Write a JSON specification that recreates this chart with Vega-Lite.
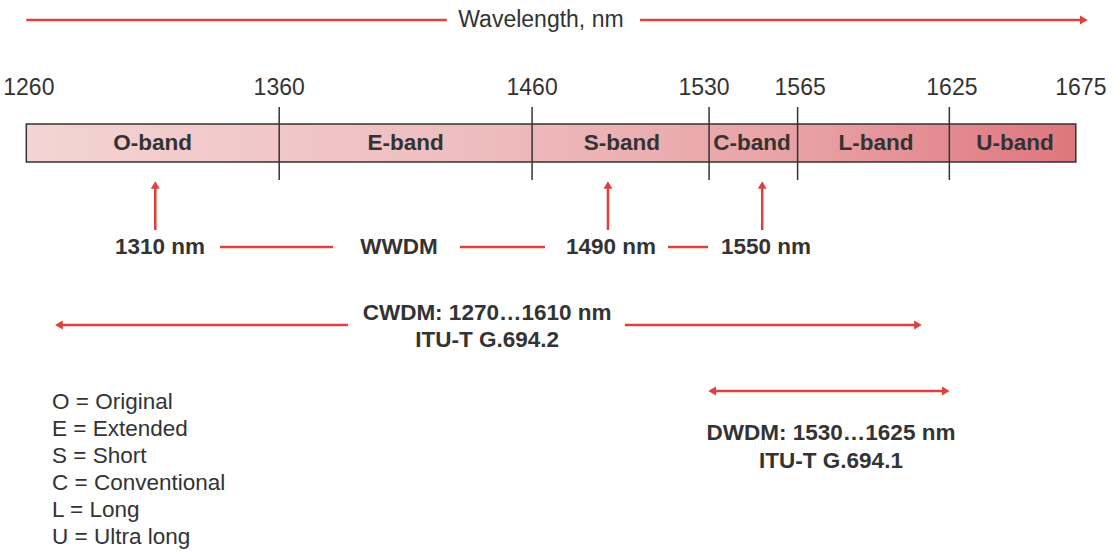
{
  "$schema": "https://vega.github.io/schema/vega-lite/v6.json",
  "width": 1116,
  "height": 551,
  "autosize": {"type": "fit", "contains": "padding"},
  "padding": 0,
  "background": "white",
  "config": {"view": {"stroke": null}, "text": {"font": "Liberation Sans", "color": "#333333"}},
  "datasets": {
    "bar": [{"start": 1260, "end": 1675, "top": 124, "bottom": 162}],
    "dividers": [
      {"x": 1360, "y": 107, "y2": 180},
      {"x": 1460, "y": 107, "y2": 180},
      {"x": 1530, "y": 107, "y2": 180},
      {"x": 1565, "y": 107, "y2": 180},
      {"x": 1625, "y": 107, "y2": 180}
    ],
    "redlines": [
      {"x": 1260, "x2": 1426.3, "y": 20, "y2": 20},
      {"x": 1502.7, "x2": 1678, "y": 20, "y2": 20},
      {"x": 1311, "x2": 1311, "y": 230, "y2": 186},
      {"x": 1490, "x2": 1490, "y": 230, "y2": 186},
      {"x": 1551, "x2": 1551, "y": 230, "y2": 186},
      {"x": 1336.6, "x2": 1381.3, "y": 247, "y2": 247},
      {"x": 1431.5, "x2": 1465.1, "y": 247, "y2": 247},
      {"x": 1513.7, "x2": 1529.6, "y": 247, "y2": 247},
      {"x": 1273, "x2": 1387.2, "y": 325, "y2": 325},
      {"x": 1496.7, "x2": 1612, "y": 325, "y2": 325},
      {"x": 1531.5, "x2": 1623.5, "y": 391, "y2": 391}
    ],
    "heads": [
      {"x": 1678.2, "y": 20, "dir": "right"},
      {"x": 1311, "y": 185, "dir": "up"},
      {"x": 1490, "y": 185, "dir": "up"},
      {"x": 1551, "y": 185, "dir": "up"},
      {"x": 1272.9, "y": 325, "dir": "left"},
      {"x": 1612.6, "y": 325, "dir": "right"},
      {"x": 1531.2, "y": 391, "dir": "left"},
      {"x": 1623.6, "y": 391, "dir": "right"}
    ],
    "texts": [
      {"kind": "title", "x": 1463.5, "y": 20, "text": "Wavelength, nm"},
      {"kind": "tick", "x": 1261, "y": 88, "text": "1260"},
      {"kind": "tick", "x": 1360, "y": 88, "text": "1360"},
      {"kind": "tick", "x": 1460, "y": 88, "text": "1460"},
      {"kind": "tick", "x": 1528, "y": 88, "text": "1530"},
      {"kind": "tick", "x": 1566, "y": 88, "text": "1565"},
      {"kind": "tick", "x": 1626, "y": 88, "text": "1625"},
      {"kind": "tick", "x": 1677, "y": 88, "text": "1675"},
      {"kind": "band", "x": 1310, "y": 143, "text": "O-band"},
      {"kind": "band", "x": 1410, "y": 143, "text": "E-band"},
      {"kind": "band", "x": 1495.5, "y": 143, "text": "S-band"},
      {"kind": "band", "x": 1547, "y": 143, "text": "C-band"},
      {"kind": "band", "x": 1596, "y": 143, "text": "L-band"},
      {"kind": "band", "x": 1651, "y": 143, "text": "U-band"},
      {"kind": "label", "x": 1312.9, "y": 247, "text": "1310 nm"},
      {"kind": "label", "x": 1407.4, "y": 247, "text": "WWDM"},
      {"kind": "label", "x": 1491.2, "y": 247, "text": "1490 nm"},
      {"kind": "label", "x": 1552.5, "y": 247, "text": "1550 nm"},
      {"kind": "label", "x": 1442.2, "y": 313, "text": "CWDM: 1270…1610 nm"},
      {"kind": "label", "x": 1442.2, "y": 340, "text": "ITU-T G.694.2"},
      {"kind": "label", "x": 1578.2, "y": 433, "text": "DWDM: 1530…1625 nm"},
      {"kind": "label", "x": 1578.2, "y": 461, "text": "ITU-T G.694.1"},
      {"kind": "legend", "x": 1270.2, "y": 402, "text": "O = Original"},
      {"kind": "legend", "x": 1270.2, "y": 429, "text": "E = Extended"},
      {"kind": "legend", "x": 1270.2, "y": 456, "text": "S = Short"},
      {"kind": "legend", "x": 1270.2, "y": 483, "text": "C = Conventional"},
      {"kind": "legend", "x": 1270.2, "y": 510, "text": "L = Long"},
      {"kind": "legend", "x": 1270.2, "y": 537, "text": "U = Ultra long"}
    ]
  },
  "encoding": {
    "x": {"type": "quantitative", "scale": {"domain": [1249.6, 1690.9], "nice": false, "zero": false}, "axis": null},
    "y": {"type": "quantitative", "scale": {"domain": [0, 551], "nice": false, "zero": false, "reverse": true}, "axis": null}
  },
  "layer": [
    {
      "data": {"name": "bar"},
      "mark": {
        "type": "rect",
        "stroke": "#333333",
        "strokeWidth": 1.5,
        "color": {
          "gradient": "linear", "x1": 0, "y1": 0, "x2": 1, "y2": 0,
          "stops": [
            {"offset": 0, "color": "#f4d4d4"},
            {"offset": 0.45, "color": "#eebbbd"},
            {"offset": 0.75, "color": "#e8a0a4"},
            {"offset": 1, "color": "#de767d"}
          ]
        }
      },
      "encoding": {
        "x": {"field": "start", "type": "quantitative"},
        "x2": {"field": "end"},
        "y": {"field": "top", "type": "quantitative"},
        "y2": {"field": "bottom"}
      }
    },
    {
      "data": {"name": "dividers"},
      "mark": {"type": "rule", "color": "#333333", "strokeWidth": 1.5},
      "encoding": {
        "x": {"field": "x", "type": "quantitative"},
        "y": {"field": "y", "type": "quantitative"},
        "y2": {"field": "y2"}
      }
    },
    {
      "data": {"name": "redlines"},
      "mark": {"type": "rule", "color": "#e0403a", "strokeWidth": 2.5},
      "encoding": {
        "x": {"field": "x", "type": "quantitative"},
        "x2": {"field": "x2"},
        "y": {"field": "y", "type": "quantitative"},
        "y2": {"field": "y2"}
      }
    },
    {
      "data": {"name": "heads"},
      "mark": {"type": "point", "filled": true, "color": "#e0403a", "opacity": 1, "size": 80},
      "encoding": {
        "x": {"field": "x", "type": "quantitative"},
        "y": {"field": "y", "type": "quantitative"},
        "shape": {"field": "dir", "type": "nominal", "scale": {"domain": ["right", "left", "up"], "range": ["triangle-right", "triangle-left", "triangle-up"]}, "legend": null}
      }
    },
    {
      "data": {"name": "texts"},
      "transform": [{"filter": "datum.kind === 'title' || datum.kind === 'tick'"}],
      "mark": {"type": "text", "fontSize": 23, "baseline": "middle", "align": "center"},
      "encoding": {
        "x": {"field": "x", "type": "quantitative"},
        "y": {"field": "y", "type": "quantitative"},
        "text": {"field": "text"}
      }
    },
    {
      "data": {"name": "texts"},
      "transform": [{"filter": "datum.kind === 'band' || datum.kind === 'label'"}],
      "mark": {"type": "text", "fontSize": 22.5, "fontWeight": "bold", "baseline": "middle", "align": "center"},
      "encoding": {
        "x": {"field": "x", "type": "quantitative"},
        "y": {"field": "y", "type": "quantitative"},
        "text": {"field": "text"}
      }
    },
    {
      "data": {"name": "texts"},
      "transform": [{"filter": "datum.kind === 'legend'"}],
      "mark": {"type": "text", "fontSize": 22.5, "baseline": "middle", "align": "left"},
      "encoding": {
        "x": {"field": "x", "type": "quantitative"},
        "y": {"field": "y", "type": "quantitative"},
        "text": {"field": "text"}
      }
    }
  ]
}
